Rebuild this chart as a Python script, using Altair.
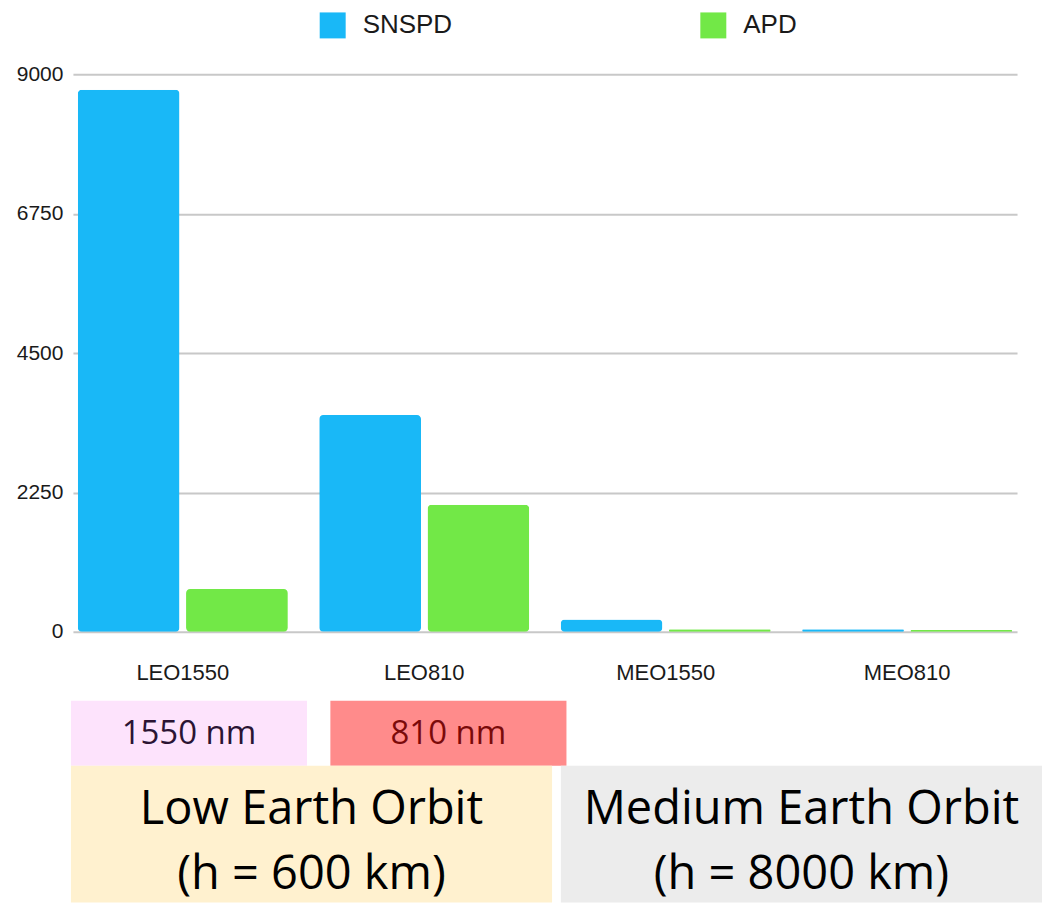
import altair as alt
import pandas as pd

categories = ["LEO1550", "LEO810", "MEO1550", "MEO810"]
detectors = ["SNSPD", "APD"]
snspd_values = [8750, 3500, 200, 40]
apd_values = [690, 2050, 40, 30]
y_ticks = [0, 2250, 4500, 6750, 9000]

wavelength_labels = ["1550 nm", "810 nm"]
wavelength_fill = ["#FDE3FC", "#FF8B8B"]
wavelength_text = ["#2B1433", "#7B0A0A"]
orbit_labels = ["Low Earth Orbit\n(h = 600 km)", "Medium Earth Orbit\n(h = 8000 km)"]
orbit_fill = ["#FFF1CF", "#ECECEC"]

rows = []
for c, s, a in zip(categories, snspd_values, apd_values):
    rows.append({"category": c, "detector": "SNSPD", "value": s})
    rows.append({"category": c, "detector": "APD", "value": a})
df = pd.DataFrame(rows)

bars = alt.Chart(df).mark_bar(cornerRadius=4).encode(
    x=alt.X("category:N", sort=categories,
            scale=alt.Scale(paddingInner=0.13, paddingOuter=0.02),
            axis=alt.Axis(title=None, labelAngle=0, ticks=False, domain=False,
                          labelFontSize=22, labelPadding=31, labelFont="Liberation Sans",
                          labelColor="#1a1a1a", labelBaseline="top")),
    xOffset=alt.XOffset("detector:N", sort=detectors, scale=alt.Scale(paddingInner=0.06)),
    y=alt.Y("value:Q", scale=alt.Scale(domain=[0, 9000], nice=False),
            axis=alt.Axis(values=y_ticks, format="d", title=None, ticks=False, domain=False,
                          gridColor="#c8c8c8", gridWidth=2, labelFontSize=21,
                          labelFont="Liberation Sans", labelColor="#1a1a1a", labelPadding=10)),
    color=alt.Color("detector:N", sort=detectors,
                    scale=alt.Scale(domain=detectors, range=["#19B8F7", "#72E847"]),
                    legend=alt.Legend(title=None, orient="none", direction="horizontal",
                                      legendX=247, legendY=-62, symbolType="square",
                                      symbolSize=676, symbolStrokeWidth=0, labelFontSize=26,
                                      labelFont="Liberation Sans", labelColor="#1a1a1a",
                                      labelOffset=17, columnPadding=248)),
).properties(width=945, height=558)

wl_df = pd.DataFrame({"label": wavelength_labels, "fill": wavelength_fill, "tcolor": wavelength_text})
wl_x = alt.X("label:N", sort=wavelength_labels,
             scale=alt.Scale(range=[-2, 494], paddingInner=0.09, paddingOuter=0), axis=None)
wl_rect = alt.Chart(wl_df).mark_rect().encode(
    x=wl_x, color=alt.Color("fill:N", scale=None))
wl_text = alt.Chart(wl_df).mark_text(font="Open Sans", fontSize=33, baseline="middle").encode(
    x=wl_x, y=alt.value(33), text="label:N", color=alt.Color("tcolor:N", scale=None))
wl_row = alt.layer(wl_rect, wl_text).properties(width=945, height=65)

orb_df = pd.DataFrame({"label": orbit_labels, "fill": orbit_fill})
orb_x = alt.X("label:N", sort=orbit_labels,
              scale=alt.Scale(range=[-2, 970], paddingInner=0.018, paddingOuter=0), axis=None)
orb_rect = alt.Chart(orb_df).mark_rect().encode(
    x=orb_x, color=alt.Color("fill:N", scale=None))
orb_text = alt.Chart(orb_df).mark_text(font="Open Sans", fontSize=47, baseline="middle",
                                       lineBreak="\n", lineHeight=65, color="#000000").encode(
    x=orb_x, y=alt.value(44), text="label:N")
orb_row = alt.layer(orb_rect, orb_text).properties(width=945, height=137)

bottom = alt.vconcat(wl_row, orb_row, spacing=0)

chart = alt.vconcat(bars, bottom, spacing=17).resolve_scale(
    color="independent"
).properties(
    padding={"left": 8, "top": 4, "right": 0, "bottom": 0}
).configure_view(stroke=None)

chart.save("out.html", embed_options={"renderer": "svg", "actions": False})
